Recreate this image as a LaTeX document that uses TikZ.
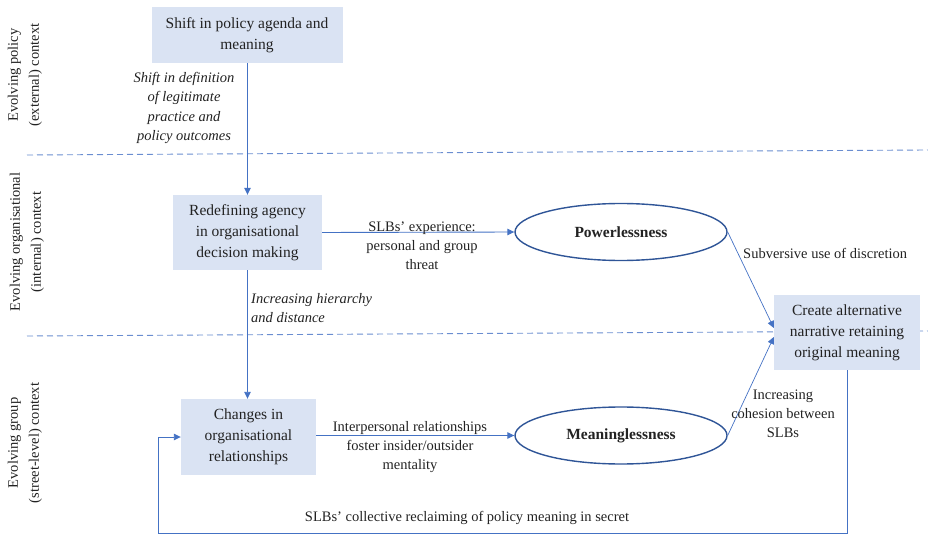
\documentclass[tikz,border=0pt]{standalone}
\usepackage{fontspec}
\setmainfont{Liberation Serif}
\usetikzlibrary{arrows.meta,shapes.geometric,calc}
\definecolor{boxfill}{HTML}{DAE3F3}
\definecolor{conn}{HTML}{4472C4}
\definecolor{dashc}{HTML}{6A8DD0}
\definecolor{ellb}{HTML}{2F5597}
\definecolor{txt}{HTML}{222222}
\tikzset{
  x=1pt, y=-1pt,
  every node/.style={text=txt},
  boxnode/.style={fill=boxfill, align=center, inner sep=2pt,
    font=\fontsize{15.5}{21}\selectfont},
  ellnode/.style={ellipse, draw=ellb, line width=1.4pt, inner sep=0pt,
    minimum width=212pt, minimum height=57pt,
    font=\fontsize{15.5}{19}\selectfont\bfseries},
  lbl/.style={align=center, inner sep=0pt, font=\fontsize{14.5}{19}\selectfont},
  ilbl/.style={lbl, font=\fontsize{14.5}{19.3}\selectfont\itshape},
  side/.style={rotate=90, align=center, inner sep=0pt, font=\fontsize{14.5}{21}\selectfont},
  conline/.style={draw=conn, line width=0.9pt},
  arr/.style={conline, -{Triangle[length=7pt,width=6.5pt]}},
  divider/.style={draw=dashc, line width=0.9pt, dash pattern=on 6pt off 4pt},
}
\begin{document}
\begin{tikzpicture}
\useasboundingbox (0,0) rectangle (928,534);

% dividers
\draw[divider] (27,155) -- (928,150);
\draw[divider] (27,336) -- (928,331);

% side labels
\node[side] (sideA) at (25,75) {Evolving policy\\(external) context};
\node[side] (sideB) at (27,242) {Evolving organisational\\(internal) context};
\node[side] (sideC) at (25,443) {Evolving group\\(street-level) context};

% boxes
\node[boxnode, minimum width=191pt, minimum height=56pt] (b1) at (247,35) {Shift in policy agenda and\\meaning};
\node[boxnode, minimum width=149pt, minimum height=75pt] (b2) at (247.5,232.5) {Redefining agency\\in organisational\\decision making};
\node[boxnode, minimum width=135pt, minimum height=76pt] (b3) at (248.5,437) {Changes in\\organisational\\relationships};
\node[boxnode, minimum width=146pt, minimum height=75pt] (b4) at (847,332.5) {Create alternative\\narrative retaining\\original meaning};

% ellipses
\node[ellnode] (e1) at (621,232) {Powerlessness};
\node[ellnode] (e2) at (621,435.5) {Meaninglessness};

% connectors
\draw[arr] (b1.south -| b2.north) -- (b2.north);
\draw[arr] (b2.south) -- (b2.south |- b3.north);
\draw[arr] (b2.east) -- (e1.west);
\draw[arr] (b3.east |- e2.west) -- (e2.west);
\coordinate (t1) at ($(b4.west)+(0,-4.5)$);
\coordinate (t2) at ($(b4.west)+(0,4.5)$);
\draw[arr, line width=0.7pt] (e1.east) -- (t1);
\draw[arr, line width=0.7pt] (e2.east) -- (t2);
\coordinate (fbc) at (158,533);
\draw[arr] (b4.south) |- (fbc) |- (b3.west);

% labels
\node[ilbl] (l1) at (184,108) {Shift in definition\\of legitimate\\practice and\\policy outcomes};
\node[ilbl, align=left, anchor=west] (l2) at (251,308) {Increasing hierarchy\\and distance};
\node[lbl] (l3) at (422,245.5) {SLBs’ experience:\\personal and group\\threat};
\node[lbl, anchor=west] (l4) at (743,253) {Subversive use of discretion};
\node[lbl] (l5) at (410,447) {Interpersonal relationships\\foster insider/outsider\\mentality};
\node[lbl] (l6) at (783,414) {Increasing\\cohesion between\\SLBs};
\node[lbl] (l7) at (467,518) {SLBs’ collective reclaiming of policy meaning in secret};
\end{tikzpicture}
\end{document}
